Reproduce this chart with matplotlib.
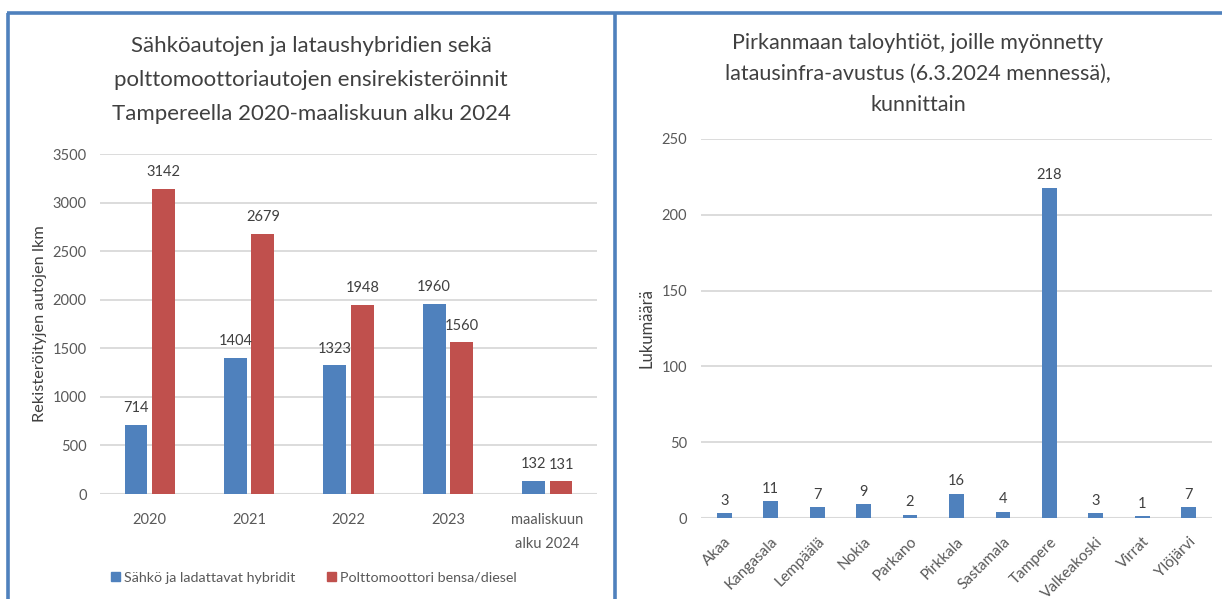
import matplotlib
matplotlib.use("Agg")
import matplotlib.pyplot as plt
import numpy as np
from matplotlib.lines import Line2D

plt.rcParams['font.family'] = ['Lato', 'DejaVu Sans']

# ---- data ----
years = ["2020", "2021", "2022", "2023", "maaliskuun\nalku 2024"]
electric = [714, 1404, 1323, 1960, 132]
combustion = [3142, 2679, 1948, 1560, 131]
series_names = ["Sähkö ja ladattavat hybridit", "Polttomoottori bensa/diesel"]
left_yticks = [0, 500, 1000, 1500, 2000, 2500, 3000, 3500]

municipalities = ["Akaa", "Kangasala", "Lempäälä", "Nokia", "Parkano", "Pirkkala",
                  "Sastamala", "Tampere", "Valkeakoski", "Virrat", "Ylöjärvi"]
grants = [3, 11, 7, 9, 2, 16, 4, 218, 3, 1, 7]
right_yticks = [0, 50, 100, 150, 200, 250]

left_title = "Sähköautojen ja lataushybridien sekä\npolttomoottoriautojen ensirekisteröinnit\nTampereella 2020-maaliskuun alku 2024"
right_title = "Pirkanmaan taloyhtiöt, joille myönnetty\nlatausinfra-avustus (6.3.2024 mennessä),\nkunnittain"
left_ylabel = "Rekisteröityjen autojen lkm"
right_ylabel = "Lukumäärä"

BLUE = "#4F81BD"
RED = "#C0504D"
GRID = "#D9D9D9"
TXT = "#595959"
LBL = "#404040"

W, H = 1222, 599
fig = plt.figure(figsize=(W / 100, H / 100), dpi=100)

def fx(px):
    return px / W

def fy(py):
    return 1 - py / H

# panel borders
border_kw = dict(color=BLUE, lw=2.6, transform=fig.transFigure, solid_capstyle='butt')
fig.add_artist(Line2D([fx(8), fx(8)], [fy(13), 0], **border_kw))
fig.add_artist(Line2D([fx(7), fx(1222)], [fy(13), fy(13)], **border_kw))
fig.add_artist(Line2D([fx(615), fx(615)], [fy(13), 0], **border_kw))

def style_axes(ax):
    for s in ax.spines.values():
        s.set_visible(False)
    ax.grid(axis='y', color=GRID, lw=1.3)
    ax.set_axisbelow(True)
    ax.tick_params(axis='both', length=0, colors=TXT, labelsize=10.5)
    ax.axhline(0, color=GRID, lw=1.5, zorder=1)

# ---- left chart ----
axL = fig.add_axes([fx(100), fy(494), fx(597 - 100), (494 - 154) / H])
x = np.arange(len(years))
bw = 0.23
off = 0.138
b1 = axL.bar(x - off, electric, bw, color=BLUE, zorder=2)
b2 = axL.bar(x + off, combustion, bw, color=RED, zorder=2)
style_axes(axL)
axL.set_xlim(-0.5, len(years) - 0.5)
axL.set_ylim(0, 3500)
axL.set_yticks(left_yticks)
axL.set_xticks(x)
axL.set_xticklabels(years, linespacing=1.9)
axL.tick_params(axis='x', pad=14)
axL.tick_params(axis='y', pad=9.5)
for bars in (b1, b2):
    for r in bars:
        axL.annotate(f"{int(r.get_height())}", (r.get_x() + r.get_width() / 2, r.get_height()),
                     xytext=(0, 7), textcoords='offset points', ha='center', va='bottom',
                     fontsize=10.5, color=LBL)
axL.set_ylabel(left_ylabel, fontsize=11.8, color=LBL, labelpad=4)
fig.text(fx(311), fy(80), left_title, ha='center', va='center', fontsize=16,
         color=LBL, linespacing=1.85)

handles = [plt.Rectangle((0, 0), 1, 1, color=BLUE), plt.Rectangle((0, 0), 1, 1, color=RED)]
fig.legend(handles, series_names, loc='center', bbox_to_anchor=(fx(314), fy(578)), ncol=2,
           frameon=False, fontsize=10.3, labelcolor=TXT, handlelength=0.6, handleheight=0.6,
           handletextpad=0.3, columnspacing=2.2)

# ---- right chart ----
axR = fig.add_axes([fx(701), fy(518), fx(1212 - 701), (518 - 139) / H])
xr = np.arange(len(municipalities))
bars = axR.bar(xr, grants, 0.32, color=BLUE, zorder=2)
style_axes(axR)
axR.set_xlim(-0.5, len(municipalities) - 0.5)
axR.set_ylim(0, 250)
axR.set_yticks(right_yticks)
axR.set_xticks(xr)
axR.set_xticklabels(municipalities, rotation=45, ha='right', rotation_mode='anchor',
                    fontsize=11)
axR.tick_params(axis='x', pad=12)
axR.tick_params(axis='y', pad=10)
for r in bars:
    axR.annotate(f"{int(r.get_height())}", (r.get_x() + r.get_width() / 2, r.get_height()),
                 xytext=(0, 4), textcoords='offset points', ha='center', va='bottom',
                 fontsize=10.5, color=LBL)
axR.set_ylabel(right_ylabel, fontsize=12, color=LBL, labelpad=5)
fig.text(fx(918), fy(74), right_title, ha='center', va='center', fontsize=15.5,
         color=LBL, linespacing=1.69)

fig.savefig("out.png", dpi=100)
